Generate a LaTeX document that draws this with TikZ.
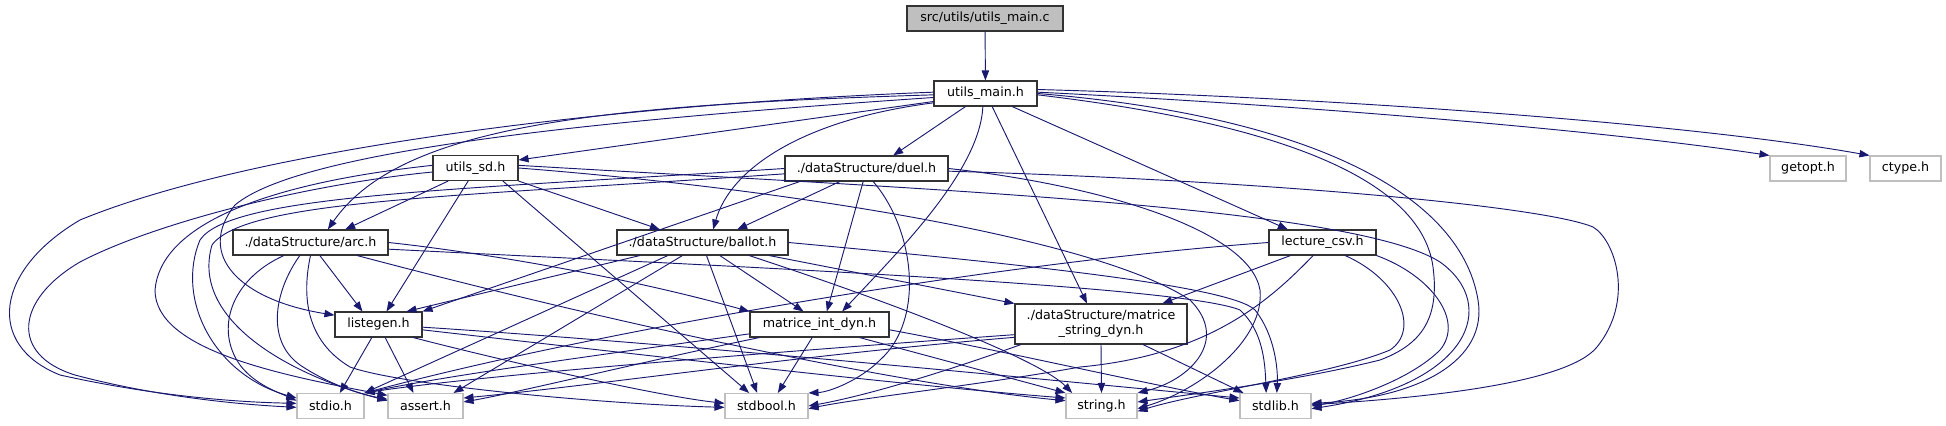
\documentclass[tikz,border=0pt]{standalone}
\usepackage{fontspec}
\setmainfont{DejaVu Sans}
\usetikzlibrary{arrows.meta}
\definecolor{edgeblue}{HTML}{191970}
\definecolor{grey75}{HTML}{BFBFBF}

\begin{document}
\begin{tikzpicture}[x=0.75pt, y=-0.75pt,
    box/.style={rectangle, minimum height=18.75pt, inner xsep=2pt, inner ysep=0pt,
      font=\fontsize{9.5}{11}\selectfont, line width=0.8pt},
    hdr/.style={box, draw=black!80},
    syshdr/.style={box, draw=grey75},
    srcfile/.style={box, draw=black!80, fill=grey75},
    inc/.style={draw=edgeblue, line width=0.7pt, -{Triangle[length=7.5pt,width=5.5pt]}}]
    \useasboundingbox (0,0) rectangle (1946,425);

    % files
    \node[srcfile, minimum width=117pt] (main) at (985,18.5) {src/utils/utils\_main.c};
    \node[hdr, minimum width=77.25pt] (umain) at (985.5,93.5) {utils\_main.h};
    \node[hdr, minimum width=63.75pt] (usd) at (475.5,168) {utils\_sd.h};
    \node[hdr, minimum width=122.25pt] (duel) at (866.5,168.5) {./dataStructure/duel.h};
    \node[syshdr, minimum width=57pt] (getopt) at (1808,168.5) {getopt.h};
    \node[syshdr, minimum width=53.25pt] (ctype) at (1905.5,168.5) {ctype.h};
    \node[hdr, minimum width=116.25pt] (arc) at (310.5,242.5) {./dataStructure/arc.h};
    \node[hdr, minimum width=128.25pt] (ballot) at (702.5,242.5) {./dataStructure/ballot.h};
    \node[hdr, minimum width=80.25pt] (lcsv) at (1322.5,242.5) {lecture\_csv.h};
    \node[hdr, minimum width=65.25pt] (listegen) at (378.5,324.5) {listegen.h};
    \node[hdr, minimum width=104.25pt] (mint) at (819.5,324.5) {matrice\_int\_dyn.h};
    \node[hdr, minimum width=129pt, minimum height=30pt, align=center] (mstr) at (1101,324) {./dataStructure/matrice\\\_string\_dyn.h};
    \node[syshdr, minimum width=50.25pt] (stdio) at (330.5,406) {stdio.h};
    \node[syshdr, minimum width=56.25pt] (assert) at (425.5,406) {assert.h};
    \node[syshdr, minimum width=62.25pt] (stdbool) at (766.5,406) {stdbool.h};
    \node[syshdr, minimum width=53.25pt] (string) at (1101.5,406) {string.h};
    \node[syshdr, minimum width=53.25pt] (stdlib) at (1275.5,406) {stdlib.h};

    % utils_main.c
    \draw[inc] (main) -- (umain);

    % utils_main.h
    \draw[inc] ([yshift=-6pt]umain.west) -- ([yshift=6pt]usd.east);
    \draw[inc] ([xshift=-15pt]umain.south) -- ([xshift=20pt]duel.north);
    \draw[inc] ([yshift=-7pt]umain.west) .. controls (800,120) and (730,170) .. ([xshift=8pt]ballot.north);
    \draw[inc] ([yshift=-1pt]umain.west) .. controls (600,105) and (400,125) .. ([xshift=13pt]arc.north);
    \draw[inc] ([yshift=-3pt]umain.west) .. controls (600,120) and (300,150) .. (235,205)
      .. controls (195,255) and (240,300) .. ([yshift=7pt]listegen.west);
    \draw[inc] ([xshift=-2pt]umain.south) .. controls (980,170) and (900,250) .. ([xshift=17pt]mint.north);
    \draw[inc] ([xshift=5pt]umain.south) -- ([xshift=-10.5pt]mstr.north);
    \draw[inc] ([xshift=20pt]umain.south) -- ([xshift=-26pt]lcsv.north);
    \draw[inc] ([yshift=1pt]umain.west) .. controls (600,105) and (250,150) .. (80,220)
      .. controls (-5,270) and (-15,345) .. (60,375) .. controls (150,395) and (230,402) .. ([yshift=2pt]stdio.west);
    \draw[inc] ([yshift=1pt]umain.east) .. controls (1300,105) and (1600,130) .. (getopt.north west);
    \draw[inc] ([yshift=3pt]umain.east) .. controls (1350,98) and (1700,125) .. (ctype.north west);
    \draw[inc] ([yshift=-1pt]umain.east) .. controls (1250,120) and (1420,170) .. (1433,267)
      .. controls (1440,320) and (1420,345) .. (1380,360) .. controls (1300,380) and (1200,393) .. ([yshift=3pt]string.east);
    \draw[inc] (umain.east) .. controls (1300,115) and (1460,190) .. (1478,300)
      .. controls (1488,360) and (1420,398) .. ([yshift=2pt]stdlib.east);

    % utils_sd.h
    \draw[inc] ([xshift=-20.5pt]usd.south) -- ([xshift=26pt]arc.north);
    \draw[inc] (usd.south east) -- ([xshift=-32pt]ballot.north);
    \draw[inc] ([xshift=-5.5pt]usd.south) -- ([xshift=6pt]listegen.north);
    \draw[inc] ([xshift=20.5pt]usd.south) -- ([xshift=-13pt]stdbool.north);
    \draw[inc] ([yshift=-3pt]usd.west) .. controls (300,185) and (150,225) .. (80,262)
      .. controls (15,300) and (10,355) .. (75,375) .. controls (150,395) and (230,404) .. ([yshift=-1pt]stdio.west);
    \draw[inc] ([yshift=2pt]usd.west) .. controls (250,185) and (160,230) .. (155,290)
      .. controls (155,350) and (280,375) .. ([yshift=8pt]assert.west);
    \draw[inc] (usd.east) .. controls (800,190) and (1100,240) .. (1190,300)
      .. controls (1230,340) and (1190,380) .. (string.north east);
    \draw[inc] ([yshift=2pt]usd.east) .. controls (900,188) and (1350,205) .. (1440,262)
      .. controls (1500,305) and (1470,385) .. ([yshift=-2pt]stdlib.east);

    % duel.h
    \draw[inc] ([xshift=-20pt]duel.south) -- ([xshift=26pt]ballot.north);
    \draw[inc] ([xshift=-2.5pt]duel.south) -- ([xshift=5.5pt]mint.north);
    \draw[inc] ([xshift=-50pt]duel.south) -- (listegen.north east);
    \draw[inc] ([xshift=5pt]duel.south) .. controls (915,230) and (925,320) .. (880,360)
      .. controls (860,380) and (830,392) .. (stdbool.north east);
    \draw[inc] (duel.west) .. controls (450,190) and (230,195) .. (200,240)
      .. controls (175,300) and (215,375) .. ([yshift=6pt]stdio.west);
    \draw[inc] ([yshift=-4pt]duel.west) .. controls (450,197) and (245,200) .. (212,245)
      .. controls (190,320) and (290,375) .. ([yshift=4pt]assert.west);
    \draw[inc] (duel.east) .. controls (1100,185) and (1250,230) .. (1260,290)
      .. controls (1265,340) and (1200,390) .. ([yshift=-2pt]string.east);
    \draw[inc] ([yshift=-2pt]duel.east) .. controls (1250,180) and (1540,205) .. (1593,227)
      .. controls (1615,240) and (1635,300) .. (1597,347) .. controls (1567,384) and (1420,398) .. ([yshift=1pt]stdlib.east);

    % arc.h
    \draw[inc] ([xshift=7pt]arc.south) -- ([xshift=-12pt]listegen.north);
    \draw[inc] ([xshift=-20pt]arc.south) .. controls (230,280) and (215,330) .. (240,365)
      .. controls (255,385) and (280,393) .. ([yshift=4pt]stdio.west);
    \draw[inc] ([xshift=-8pt]arc.south) .. controls (275,290) and (265,340) .. (300,365)
      .. controls (330,385) and (360,394) .. ([yshift=5pt]assert.west);
    \draw[inc] (arc.south) .. controls (302,295) and (305,340) .. (350,367)
      .. controls (400,385) and (600,404) .. ([yshift=-1pt]stdbool.west);
    \draw[inc] (arc.east) .. controls (450,249) and (600,270) .. (mint.north west);
    \draw[inc] ([xshift=35pt]arc.south) .. controls (600,320) and (900,385) .. ([yshift=4pt]string.west);
    \draw[inc] ([yshift=-5pt]arc.east) .. controls (700,265) and (1180,285) .. (1240,310)
      .. controls (1262,330) and (1265,360) .. ([xshift=-7pt]stdlib.north);

    % ballot.h
    \draw[inc] ([xshift=-47pt]ballot.south) -- ([xshift=21pt]listegen.north);
    \draw[inc] ([xshift=-26pt]ballot.south) -- (stdio.north east);
    \draw[inc] ([xshift=-15pt]ballot.south) -- ([xshift=21pt]assert.north);
    \draw[inc] ([xshift=3pt]ballot.south) -- ([xshift=-7pt]stdbool.north);
    \draw[inc] ([xshift=13pt]ballot.south) -- ([xshift=-12pt]mint.north);
    \draw[inc] ([xshift=35pt]ballot.south) .. controls (900,305) and (1040,360) .. ([xshift=-22pt]string.north);
    \draw[inc] ([xshift=50pt]ballot.south) -- (mstr.north west);
    \draw[inc] (ballot.east) .. controls (1000,262) and (1230,285) .. (1255,310)
      .. controls (1275,335) and (1278,370) .. ([xshift=1pt]stdlib.north);

    % lecture_csv.h
    \draw[inc] ([xshift=-24pt]lcsv.south) -- ([xshift=46pt]mstr.north);
    \draw[inc] (lcsv.west) .. controls (1000,262) and (600,330) .. (stdio.north east);
    \draw[inc] ([xshift=-7pt]lcsv.south) .. controls (1270,300) and (1210,355) .. (1080,367)
      .. controls (980,385) and (860,398) .. ([yshift=-2pt]stdbool.east);
    \draw[inc] ([xshift=17pt]lcsv.south) .. controls (1400,280) and (1420,330) .. (1390,350)
      .. controls (1330,375) and (1200,392) .. ([yshift=-4pt]string.east);
    \draw[inc] (lcsv.south east) .. controls (1430,275) and (1465,320) .. (1440,350)
      .. controls (1410,380) and (1350,400) .. (stdlib.east);

    % listegen.h
    \draw[inc] ([xshift=-5pt]listegen.south) -- ([xshift=7pt]stdio.north);
    \draw[inc] ([xshift=5pt]listegen.south) -- ([xshift=-9pt]assert.north);
    \draw[inc] ([xshift=26pt]listegen.south) .. controls (480,355) and (650,395) .. ([yshift=2pt]stdbool.west);
    \draw[inc] ([yshift=-4pt]listegen.east) .. controls (600,350) and (900,385) .. ([yshift=6pt]string.west);
    \draw[inc] ([yshift=-2pt]listegen.east) .. controls (700,345) and (1100,385) .. ([yshift=6pt]stdlib.west);

    % matrice_int_dyn.h
    \draw[inc] ([xshift=-5.5pt]mint.south) -- ([xshift=8.5pt]stdbool.north);
    \draw[inc] ([yshift=-7pt]mint.west) .. controls (600,355) and (450,375) .. (stdio.north east);
    \draw[inc] ([xshift=-45pt]mint.south) .. controls (650,360) and (520,392) .. ([yshift=3pt]assert.east);
    \draw[inc] ([xshift=30pt]mint.south) -- (string.north west);
    \draw[inc] ([yshift=-4pt]mint.east) .. controls (1000,350) and (1150,385) .. ([yshift=4pt]stdlib.west);

    % matrice_string_dyn.h
    \draw[inc] ([yshift=-8pt]mstr.west) .. controls (800,350) and (480,375) .. (stdio.north east);
    \draw[inc] ([yshift=-10pt]mstr.west) .. controls (800,355) and (600,385) .. ([yshift=6pt]assert.east);
    \draw[inc] ([xshift=-60pt]mstr.south) .. controls (950,370) and (870,395) .. (stdbool.east);
    \draw[inc] (mstr.south) -- (string.north);
    \draw[inc] ([xshift=31.5pt]mstr.south) -- ([xshift=-24pt]stdlib.north);
\end{tikzpicture}
\end{document}
